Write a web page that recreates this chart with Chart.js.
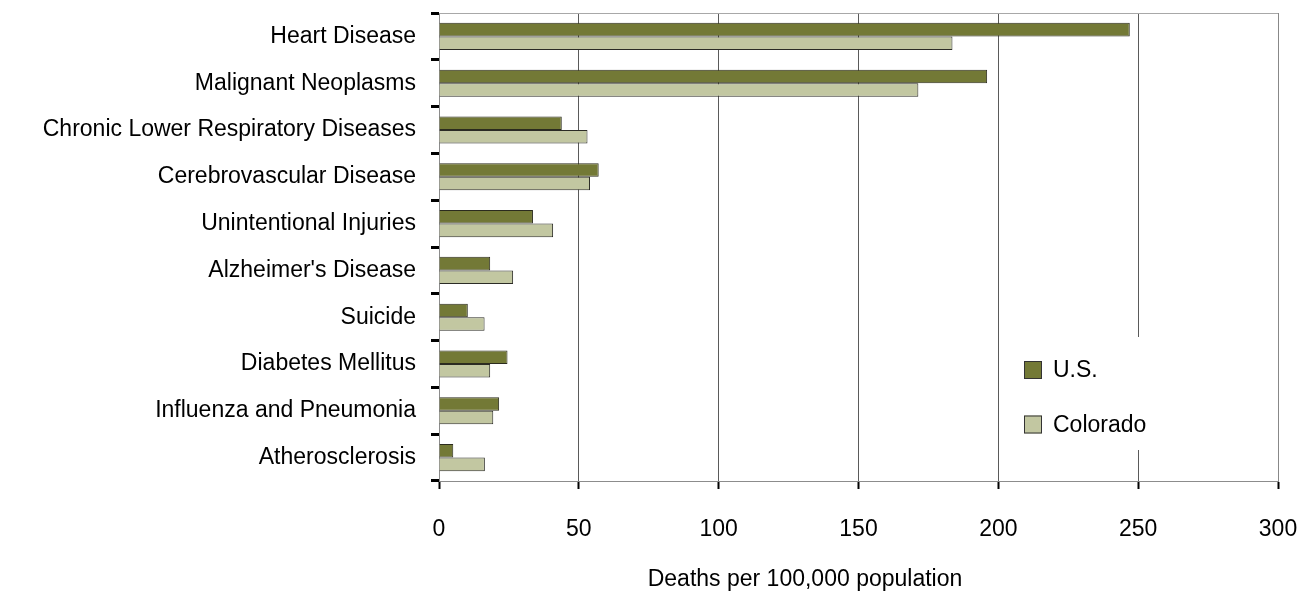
<!DOCTYPE html>
<html>
<head>
<meta charset="utf-8">
<script src="https://cdn.jsdelivr.net/npm/chart.js@4.4.1/dist/chart.umd.min.js"></script>
<style>
  html, body { margin: 0; padding: 0; background: #ffffff; }
  #wrap { width: 1306px; height: 592px; position: relative; }
</style>
</head>
<body>
<div id="wrap"><canvas id="c" width="1306" height="592"></canvas></div>
<script>
const categories = [
  "Heart Disease",
  "Malignant Neoplasms",
  "Chronic Lower Respiratory Diseases",
  "Cerebrovascular Disease",
  "Unintentional Injuries",
  "Alzheimer's Disease",
  "Suicide",
  "Diabetes Mellitus",
  "Influenza and Pneumonia",
  "Atherosclerosis"
];
const usValues = [247.0, 196.0, 43.9, 57.1, 33.6, 18.3, 10.3, 24.5, 21.5, 5.1];
const coloradoValues = [183.6, 171.4, 53.1, 54.0, 40.8, 26.5, 16.3, 18.3, 19.4, 16.4];
const seriesNames = ["U.S.", "Colorado"];
const xTicks = [0, 50, 100, 150, 200, 250, 300];
const axisTitle = "Deaths per 100,000 population";

const FONT = "'Liberation Sans', Arial, sans-serif";
const FS = 23;

const frameAndLegend = {
  id: 'frameAndLegend',
  beforeDatasetsDraw(chart) {
    const {ctx, chartArea: a} = chart;
    ctx.save();
    ctx.strokeStyle = '#a8a8a8';
    ctx.lineWidth = 1;
    ctx.beginPath();
    ctx.moveTo(a.left, a.top + 0.5);
    ctx.lineTo(a.right, a.top + 0.5);
    ctx.stroke();
    ctx.restore();
  },
  afterDraw(chart) {
    const {ctx} = chart;
    ctx.save();
    ctx.fillStyle = '#ffffff';
    ctx.fillRect(1008, 337, 165, 113);
    ctx.font = FS + 'px ' + FONT;
    ctx.textBaseline = 'middle';
    ctx.textAlign = 'left';
    const rows = [370, 424.5];
    chart.data.datasets.forEach((ds, i) => {
      const cy = rows[i];
      ctx.fillStyle = ds.backgroundColor;
      ctx.fillRect(1024, cy - 9, 18, 18);
      ctx.strokeStyle = '#333333';
      ctx.lineWidth = 1;
      ctx.strokeRect(1024.5, cy - 8.5, 17, 17);
      ctx.fillStyle = '#000000';
      ctx.fillText(ds.label, 1053, cy + 1);
    });
    ctx.textAlign = 'center';
    ctx.fillText(axisTitle, 805, 580);
    ctx.restore();
  }
};

new Chart(document.getElementById('c'), {
  type: 'bar',
  data: {
    labels: categories,
    datasets: [
      {
        label: seriesNames[0],
        data: usValues,
        backgroundColor: '#737936',
        borderColor: '#2b2b1e',
        borderWidth: 1,
        categoryPercentage: 0.58,
        barPercentage: 1.0
      },
      {
        label: seriesNames[1],
        data: coloradoValues,
        backgroundColor: '#c2c7a1',
        borderColor: '#2b2b25',
        borderWidth: 1,
        categoryPercentage: 0.58,
        barPercentage: 1.0
      }
    ]
  },
  options: {
    indexAxis: 'y',
    responsive: false,
    animation: false,
    devicePixelRatio: 1,
    layout: { padding: { left: 0, right: 28, top: 13, bottom: 0 } },
    plugins: {
      legend: { display: false },
      tooltip: { enabled: false }
    },
    scales: {
      x: {
        type: 'linear',
        min: 0,
        max: 300,
        afterBuildTicks(scale) { scale.ticks = xTicks.map(v => ({ value: v })); },
        afterFit(scale) { scale.height = 111; scale.paddingLeft = 0; scale.paddingRight = 0; },
        ticks: {
          color: '#000000',
          font: { family: FONT, size: FS },
          padding: 27,
          maxRotation: 0
        },
        grid: {
          color: (c) => (c.index === 0 ? 'rgba(0,0,0,0)' : (c.index === xTicks.length - 1 ? '#888888' : '#5a5a5a')),
          lineWidth: 1,
          drawTicks: true,
          tickLength: 8,
          tickColor: '#000000',
          tickWidth: 2
        },
        border: { color: '#8c8c8c', width: 1 }
      },
      y: {
        type: 'category',
        offset: true,
        afterFit(scale) { scale.width = 439; scale.paddingTop = 0; scale.paddingBottom = 0; },
        ticks: {
          color: '#000000',
          font: { family: FONT, size: FS },
          padding: 15,
          autoSkip: false
        },
        grid: {
          offset: true,
          drawOnChartArea: false,
          drawTicks: true,
          tickLength: 8,
          tickColor: '#000000',
          tickWidth: 3
        },
        border: { color: '#8c8c8c', width: 1 }
      }
    }
  },
  plugins: [frameAndLegend]
});
</script>
</body>
</html>
